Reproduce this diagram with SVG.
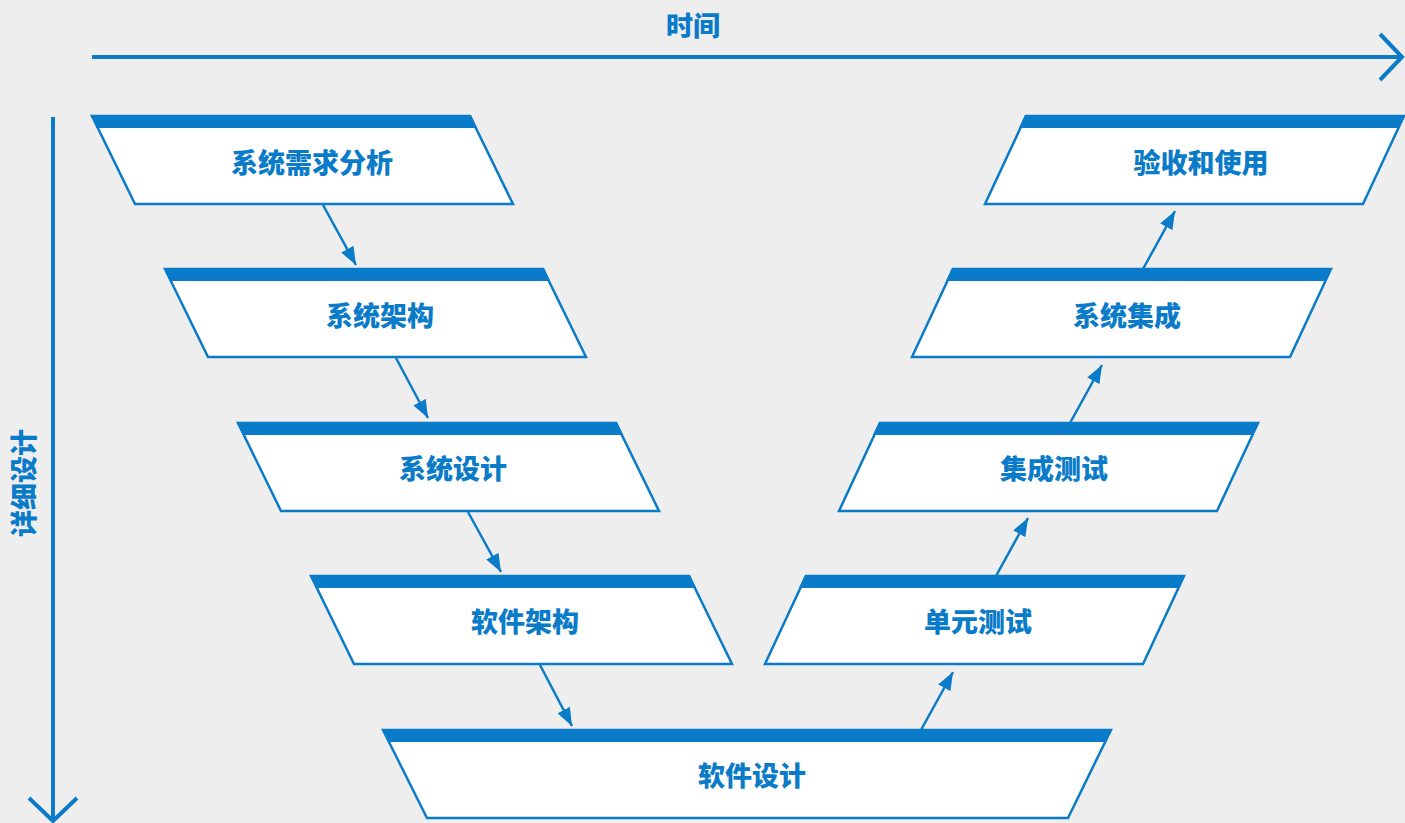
<svg xmlns="http://www.w3.org/2000/svg" xmlns:xlink="http://www.w3.org/1999/xlink" width="1405" height="823" viewBox="0 0 1405 823">
<style>
.bg{fill:#EEEEEE}
.shape{fill:#FFFFFF;stroke:#0A7BC8;stroke-width:2.5;stroke-linejoin:miter}
.band{fill:#0A7BC8}
.lbl{font-family:"Noto Sans CJK SC","Noto Sans",sans-serif;font-weight:900;font-size:27px;fill:#0A7BC8;text-anchor:middle;dominant-baseline:central}
.axis{fill:none;stroke:#0A7BC8;stroke-width:4}
.conn{fill:none;stroke:#0A7BC8;stroke-width:2.5}
</style>
<defs>
<marker id="ah" viewBox="0 0 18 14" refX="18" refY="7" markerWidth="18" markerHeight="14" markerUnits="userSpaceOnUse" orient="auto">
<path d="M0,0 L18,7 L0,14 Z" fill="#0A7BC8"/>
</marker>
<g id="leftNode">
<polygon class="shape" points="0,0 378,0 421,88 43,88"/>
<polygon class="band" points="-1,-1 379,-1 385,12 5,12"/>
</g>
<g id="rightNode">
<polygon class="shape" points="0,0 378,0 337,88 -41,88"/>
<polygon class="band" points="-1,-1 379,-1 373,12 -7,12"/>
</g>
</defs>
<rect class="bg" x="0" y="0" width="1405" height="823"/>

<g id="axes">
<path class="axis" d="M92,57 H1401"/>
<path class="axis" d="M1380,34 L1402,57 L1380,80"/>
<text class="lbl" x="693" y="24">时间</text>
<path class="axis" d="M53,117 V820"/>
<path class="axis" d="M29,798 L53,821 L77,798"/>
<text class="lbl" x="22" y="483" transform="rotate(-90 22 483)">详细设计</text>
</g>

<g id="node-xtxqfx">
<use xlink:href="#leftNode" x="92" y="116"/>
<text class="lbl" x="312" y="161">系统需求分析</text>
</g>
<g id="node-xtjg">
<use xlink:href="#leftNode" x="165" y="269"/>
<text class="lbl" x="380" y="314">系统架构</text>
</g>
<g id="node-xtsj">
<use xlink:href="#leftNode" x="238" y="423"/>
<text class="lbl" x="453" y="467">系统设计</text>
</g>
<g id="node-rjjg">
<use xlink:href="#leftNode" x="311" y="576"/>
<text class="lbl" x="525" y="620">软件架构</text>
</g>
<g id="node-rjsj">
<polygon class="shape" points="383,730 1111,730 1068,818 427,818"/>
<polygon class="band" points="382,729 1112,729 1106,742 389,742"/>
<text class="lbl" x="752" y="774">软件设计</text>
</g>
<g id="node-dycs">
<use xlink:href="#rightNode" x="806" y="576"/>
<text class="lbl" x="978" y="620">单元测试</text>
</g>
<g id="node-jccs">
<use xlink:href="#rightNode" x="880" y="423"/>
<text class="lbl" x="1054" y="467">集成测试</text>
</g>
<g id="node-xtjc">
<use xlink:href="#rightNode" x="953" y="269"/>
<text class="lbl" x="1127" y="314">系统集成</text>
</g>
<g id="node-ysysy">
<use xlink:href="#rightNode" x="1026" y="116"/>
<text class="lbl" x="1201" y="161">验收和使用</text>
</g>

<g id="connectors">
<line class="conn" x1="323" y1="205" x2="356" y2="265" marker-end="url(#ah)"/>
<line class="conn" x1="396" y1="358" x2="428" y2="418" marker-end="url(#ah)"/>
<line class="conn" x1="468" y1="512" x2="501" y2="572" marker-end="url(#ah)"/>
<line class="conn" x1="540" y1="665" x2="572" y2="726" marker-end="url(#ah)"/>
<line class="conn" x1="921" y1="730" x2="953" y2="672" marker-end="url(#ah)"/>
<line class="conn" x1="996" y1="576" x2="1028" y2="518" marker-end="url(#ah)"/>
<line class="conn" x1="1070" y1="423" x2="1102" y2="365" marker-end="url(#ah)"/>
<line class="conn" x1="1143" y1="269" x2="1175" y2="211" marker-end="url(#ah)"/>
</g>
</svg>
